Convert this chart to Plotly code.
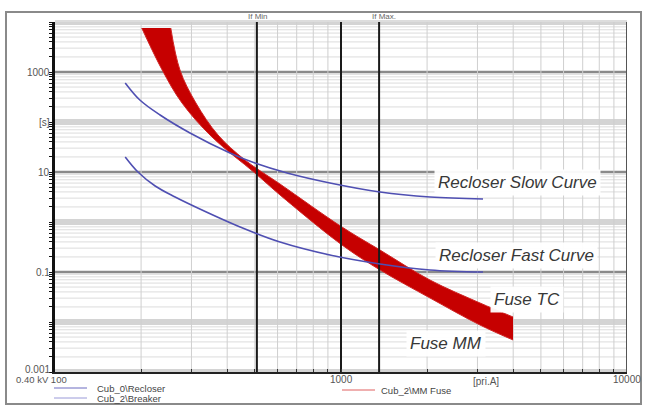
import plotly.graph_objects as go

# ---------------- data ----------------
slow_current = [176, 198, 233, 296.5, 409, 500, 648, 915, 1369, 2048, 3137]
slow_time = [603, 275, 138, 60.3, 24, 15.1, 9.55, 6.03, 3.98, 3.16, 2.88]

fast_current = [176, 195, 224, 263, 321, 444, 612, 915, 1369, 2048, 3137]
fast_time = [20, 10, 5.25, 3.16, 1.82, 0.794, 0.398, 0.219, 0.145, 0.110, 0.1]

mm_current = [201, 237, 278, 354, 500, 612, 1008, 1369, 2048, 3062, 3995]
mm_time = [7586, 1096, 240, 50, 9.55, 3.47, 0.347, 0.110, 0.0302, 0.0087, 0.00437]

tc_current = [254, 273.5, 311, 371.5, 461.6, 612, 1008, 1369, 2048, 3062, 3995]
tc_time = [7586, 1096, 240, 55, 17.4, 5.75, 0.794, 0.275, 0.069, 0.024, 0.0126]

if_min = 508
if_max = 1359

y_tick_vals = [1000, 100, 10, 0.1, 0.001]
y_tick_text = ["1000", "[s]", "10", "0.1", "0.001"]
x_tick_vals = [1000, 10000]
x_tick_text = ["1000", "10000"]

# ---------------- figure ----------------
W, H = 648, 410
L, R, T, B = 55, 21, 22, 38


def px(x):
    return (x - L) / (W - L - R)


def py(y):
    return (H - B - y) / (H - T - B)


fig = go.Figure()

XMIN, XMAX = 100, 10000
YMIN, YMAX = 0.001, 10000

# horizontal gridlines
minor_h, light_h, dark_h = [], [], []
for e in range(-3, 4):
    for k in range(2, 10):
        minor_h.append(k * 10 ** e)
for e in range(-3, 5):
    v = 10 ** e
    if e in (3, 1, -1):
        dark_h.append(v)
    else:
        light_h.append(v)


def hlines(vals):
    xs, ys = [], []
    for v in vals:
        xs += [XMIN, XMAX, None]
        ys += [v, v, None]
    return xs, ys


def vlines(vals):
    xs, ys = [], []
    for v in vals:
        xs += [v, v, None]
        ys += [YMIN, YMAX, None]
    return xs, ys


xs, ys = hlines(minor_h)
fig.add_trace(go.Scatter(x=xs, y=ys, mode="lines", line=dict(color="#dcdcdc", width=1), hoverinfo="skip", showlegend=False))
xs, ys = hlines(light_h)
fig.add_trace(go.Scatter(x=xs, y=ys, mode="lines", line=dict(color="#d4d4d4", width=6), hoverinfo="skip", showlegend=False))
xs, ys = hlines(dark_h)
fig.add_trace(go.Scatter(x=xs, y=ys, mode="lines", line=dict(color="#8a8a8a", width=2.5), hoverinfo="skip", showlegend=False))

minor_v = [k * 10 ** e for e in (2, 3) for k in range(2, 10)]
xs, ys = vlines(minor_v)
fig.add_trace(go.Scatter(x=xs, y=ys, mode="lines", line=dict(color="#cfcfcf", width=1), hoverinfo="skip", showlegend=False))

# fuse band: MM boundary then TC boundary filled to it
fig.add_trace(go.Scatter(x=mm_current, y=mm_time, mode="lines",
                         line=dict(color="#d02525", width=1, shape="spline", smoothing=1),
                         hoverinfo="skip", showlegend=False))
fig.add_trace(go.Scatter(x=tc_current, y=tc_time, mode="lines", fill="tonexty", fillcolor="#c60000",
                         line=dict(color="#d02525", width=1, shape="spline", smoothing=1),
                         hoverinfo="skip", showlegend=False))

# strong vertical lines
xs, ys = vlines([1000, if_min, if_max])
fig.add_trace(go.Scatter(x=xs, y=ys, mode="lines", line=dict(color="#1a1a1a", width=2), hoverinfo="skip", showlegend=False))
xs, ys = vlines([10000])
fig.add_trace(go.Scatter(x=xs, y=ys, mode="lines", line=dict(color="#555555", width=2), hoverinfo="skip", showlegend=False))

# recloser curves
fig.add_trace(go.Scatter(x=slow_current, y=slow_time, mode="lines",
                         line=dict(color="#4f4fb2", width=1.6, shape="spline", smoothing=1), showlegend=False))
fig.add_trace(go.Scatter(x=fast_current, y=fast_time, mode="lines",
                         line=dict(color="#4f4fb2", width=1.6, shape="spline", smoothing=1), showlegend=False))

all_minor_y = [k * 10 ** e for e in range(-3, 4) for k in range(1, 10)] + [10000]
all_minor_x = [k * 10 ** e for e in (2, 3) for k in range(1, 10)] + [10000]

fig.update_xaxes(type="log", range=[2, 4], showgrid=False, zeroline=False,
                 showline=True, linecolor="#222", linewidth=1.5,
                 ticks="inside", ticklen=3, tickcolor="#333",
                 tickvals=all_minor_x, ticktext=[""] * len(all_minor_x))
fig.update_yaxes(type="log", range=[-3, 4], showgrid=False, zeroline=False,
                 showline=True, linecolor="#111", linewidth=3,
                 ticks="outside", ticklen=3, tickcolor="#111",
                 tickvals=all_minor_y, ticktext=[""] * len(all_minor_y))

lab = dict(family="Arial", size=10, color="#555")
ann = []
# y tick labels
ypix = {1000: 72, 100: 122, 10: 172, 0.1: 272, 0.001: 369}
for v, t in zip(y_tick_vals, y_tick_text):
    ann.append(dict(x=px(52), y=py(ypix[v]), xref="paper", yref="paper", text=t,
                    showarrow=False, xanchor="right", yanchor="middle", font=lab))
ann.append(dict(x=px(14), y=py(379), xref="paper", yref="paper", text="0.40 kV 100",
                showarrow=False, xanchor="left", yanchor="middle",
                font=dict(family="Arial", size=9.5, color="#555")))
# x tick labels
for v, t in zip(x_tick_vals, x_tick_text):
    ann.append(dict(x=px({1000: 341, 10000: 627}[v]), y=py(379), xref="paper", yref="paper", text=t,
                    showarrow=False, xanchor="center", yanchor="middle", font=lab))
ann.append(dict(x=px(486), y=py(381), xref="paper", yref="paper", text="[pri.A]",
                showarrow=False, xanchor="center", yanchor="middle", font=lab))
# If Min / If Max
small = dict(family="Arial", size=8, color="#666")
ann.append(dict(x=px(246), y=py(16), xref="paper", yref="paper", text="If Min",
                showarrow=False, xanchor="left", yanchor="middle", font=small))
ann.append(dict(x=px(370), y=py(16), xref="paper", yref="paper", text="If Max.",
                showarrow=False, xanchor="left", yanchor="middle", font=small))
# curve labels
big = dict(family="Arial", size=17, color="#383838")
for t, x, y in [("Recloser Slow Curve", 517, 182),
                ("Recloser Fast Curve", 516, 255),
                ("Fuse TC", 527, 299),
                ("Fuse MM", 446, 343)]:
    ann.append(dict(x=px(x), y=py(y), xref="paper", yref="paper", text="<i>" + t + "</i>",
                    showarrow=False, xanchor="center", yanchor="middle", font=big,
                    bgcolor="rgba(255,255,255,0.95)", borderpad=3))
# legend texts
leg = dict(family="Arial", size=9.5, color="#444")
ann.append(dict(x=px(95), y=py(388), xref="paper", yref="paper", text="Cub_0\\Recloser",
                showarrow=False, xanchor="left", yanchor="middle", font=leg))
ann.append(dict(x=px(95), y=py(398), xref="paper", yref="paper", text="Cub_2\\Breaker",
                showarrow=False, xanchor="left", yanchor="middle", font=leg))
ann.append(dict(x=px(379), y=py(390), xref="paper", yref="paper", text="Cub_2\\MM Fuse",
                showarrow=False, xanchor="left", yanchor="middle", font=leg))

shapes = [
    dict(type="line", xref="paper", yref="paper", x0=px(54), x1=px(87), y0=py(388), y1=py(388),
         line=dict(color="#6a6ac0", width=1)),
    dict(type="line", xref="paper", yref="paper", x0=px(54), x1=px(87), y0=py(398), y1=py(398),
         line=dict(color="#9a9ad8", width=1)),
    dict(type="line", xref="paper", yref="paper", x0=px(342), x1=px(375), y0=py(390), y1=py(390),
         line=dict(color="#e06060", width=1)),
    # outer frame
    dict(type="rect", xref="paper", yref="paper", x0=px(6), x1=px(641), y0=py(404), y1=py(12),
         line=dict(color="#8a8a8a", width=2), fillcolor="rgba(0,0,0,0)", layer="below"),
    # top strip of plot area
    dict(type="line", xref="paper", yref="paper", x0=px(55), x1=px(627), y0=py(21), y1=py(21),
         line=dict(color="#bbbbbb", width=1)),
]

fig.update_layout(width=W, height=H, margin=dict(l=L, r=R, t=T, b=B),
                  paper_bgcolor="white", plot_bgcolor="white",
                  annotations=ann, shapes=shapes, showlegend=False)

fig.write_html("out.html")
